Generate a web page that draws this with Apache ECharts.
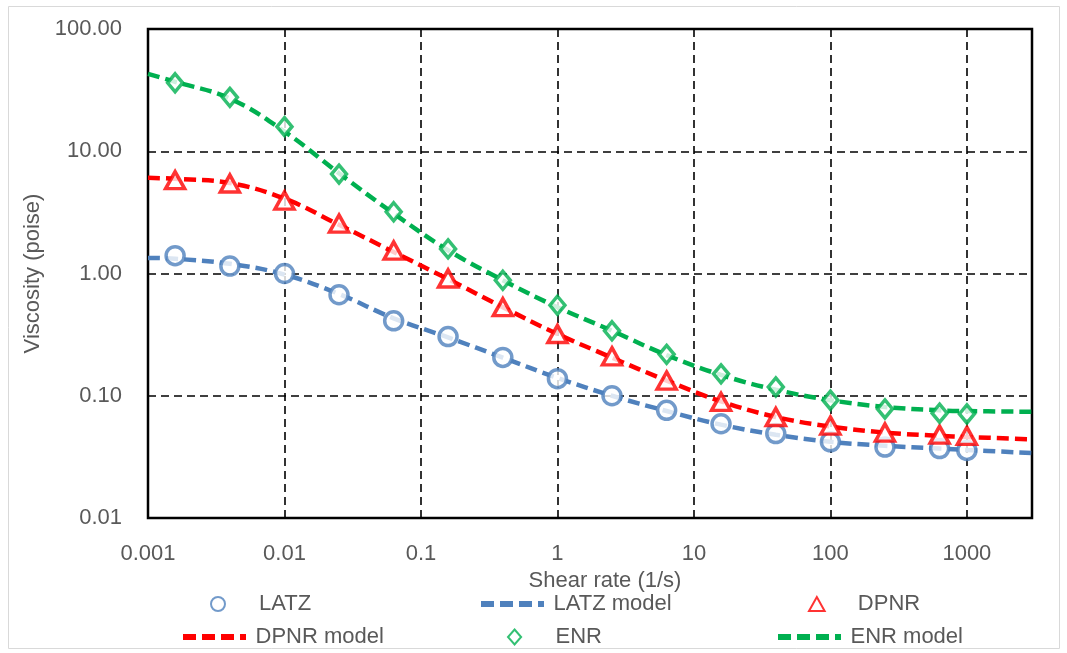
<!DOCTYPE html>
<html><head><meta charset="utf-8">
<script src="https://cdn.jsdelivr.net/npm/echarts@6/dist/echarts.min.js"></script>
<style>html,body{margin:0;padding:0;background:#fff}#c{width:1067px;height:653px}</style>
</head><body><div id="c"></div>
<script>
const shearRates = [0.00158, 0.00398, 0.01, 0.0251, 0.0631, 0.158, 0.398, 1, 2.51, 6.31, 15.8, 39.8, 100, 251, 631, 1000];
const latz = [1.40, 1.15, 1.0, 0.67, 0.41, 0.305, 0.206, 0.138, 0.100, 0.076, 0.059, 0.049, 0.042, 0.038, 0.037, 0.0357];
const dpnr = [5.8, 5.45, 3.95, 2.56, 1.54, 0.91, 0.53, 0.32, 0.21, 0.133, 0.089, 0.067, 0.057, 0.050, 0.048, 0.047];
const enr  = [36.3, 27.6, 15.9, 6.5, 3.2, 1.59, 0.88, 0.55, 0.34, 0.218, 0.151, 0.118, 0.092, 0.078, 0.072, 0.071];

const modelRates = [0.001, 0.00158, 0.00398, 0.01, 0.0251, 0.0631, 0.158, 0.398, 1, 2.51, 6.31, 15.8, 39.8, 100, 251, 631, 1000, 3000];
const latzModel = [1.34, 1.32, 1.2, 0.98, 0.68, 0.43, 0.30, 0.205, 0.14, 0.100, 0.075, 0.058, 0.048, 0.042, 0.039, 0.037, 0.036, 0.034];
const dpnrModel = [6.06, 5.95, 5.5, 4.1, 2.5, 1.5, 0.9, 0.53, 0.32, 0.205, 0.133, 0.09, 0.067, 0.056, 0.050, 0.047, 0.046, 0.044];
const enrModel  = [43, 37, 27, 14.5, 6.6, 3.1, 1.55, 0.88, 0.53, 0.34, 0.215, 0.148, 0.112, 0.092, 0.081, 0.076, 0.075, 0.074];

const xTickLabels = ['0.001', '0.01', '0.1', '1', '10', '100', '1000'];
const yTickLabels = ['0.01', '0.10', '1.00', '10.00', '100.00'];

const BLUE = '#4F81BD', RED = '#FF0000', GREEN = '#00B050';
const FONT = 'Liberation Sans';
const TXT = '#595959';
const FS = 22;

const DASH_ICON = 'path://M0,0h13v6h-13z M19,0h13v6h-13z M38,0h13v6h-13z M57,0h6v6h-6z';
const TRI_ICON = 'path://M9.5,0L19,17L0,17Z';
const DIA_ICON = 'path://M7,0L14,8L7,16L0,8Z';

function pairs(xs, ys) { return xs.map((x, i) => [x, ys[i]]); }
function markerSeries(name, data, symbol, size, color) {
  return { name, type: 'scatter', data: pairs(shearRates, data), symbol, symbolSize: size, z: 5,
    itemStyle: { color: '#fff', borderColor: color, borderWidth: 3.5 } };
}
function modelSeries(name, data, color) {
  return { name, type: 'line', data: pairs(modelRates, data), smooth: 0.4, showSymbol: false, symbol: 'none', z: 3,
    lineStyle: { color, width: 4.5, type: [12, 6] }, itemStyle: { color } };
}
function legendItem(left, top, name, icon, h) {
  return { left, top, padding: 0, itemWidth: 72, itemHeight: h, icon, data: [name], selectedMode: false,
    textStyle: { fontFamily: FONT, fontSize: FS, color: TXT } };
}
const ROW1 = 593, ROW2 = 626;
const chart = echarts.init(document.getElementById('c'));
chart.setOption({
  animation: false,
  backgroundColor: '#fff',
  graphic: [{ type: 'rect', shape: { x: 8.5, y: 6.5, width: 1051, height: 642 }, style: { fill: 'none', stroke: '#d9d9d9', lineWidth: 1 }, z: -1 }],
  grid: { left: 148, right: 35, top: 29, bottom: 135, show: true, borderColor: '#000', borderWidth: 2.5, backgroundColor: '#fff' },
  legend: [
    legendItem(210, ROW1, 'LATZ', 'circle', 14),
    legendItem(481, ROW1, 'LATZ model', DASH_ICON, 6),
    legendItem(808, ROW1, 'DPNR', TRI_ICON, 14),
    legendItem(183, ROW2, 'DPNR model', DASH_ICON, 6),
    legendItem(507, ROW2, 'ENR', DIA_ICON, 15),
    legendItem(778, ROW2, 'ENR model', DASH_ICON, 6)
  ],
  xAxis: {
    type: 'log', logBase: 10, min: 0.001, max: 3000,
    name: 'Shear rate (1/s)', nameLocation: 'middle', nameGap: 50,
    nameTextStyle: { fontFamily: FONT, fontSize: FS, color: TXT, padding: [0, 0, 0, 30] },
    axisLine: { show: false }, axisTick: { show: false },
    axisLabel: { fontFamily: FONT, fontSize: FS, color: TXT, margin: 25, showMaxLabel: false,
      formatter: v => { const e = Math.log10(v); const r = Math.round(e); return Math.abs(e - r) < 1e-6 ? (xTickLabels[r + 3] || '') : ''; } },
    splitLine: { show: true, lineStyle: { color: '#000', width: 1.6, type: [8, 5] } }
  },
  yAxis: {
    type: 'log', logBase: 10, min: 0.01, max: 100,
    name: 'Viscosity (poise)', nameLocation: 'middle', nameGap: 100,
    nameTextStyle: { fontFamily: FONT, fontSize: FS, color: TXT },
    axisLine: { show: false }, axisTick: { show: false },
    axisLabel: { fontFamily: FONT, fontSize: FS, color: TXT, margin: 26,
      formatter: v => { const e = Math.log10(v); const r = Math.round(e); return Math.abs(e - r) < 1e-6 ? (yTickLabels[r + 2] || '') : ''; } },
    splitLine: { show: true, lineStyle: { color: '#000', width: 1.6, type: [8, 5] } }
  },
  series: [
    markerSeries('LATZ', latz, 'circle', 18, BLUE),
    modelSeries('LATZ model', latzModel, BLUE),
    markerSeries('DPNR', dpnr, 'triangle', [19, 17], RED),
    modelSeries('DPNR model', dpnrModel, RED),
    markerSeries('ENR', enr, 'diamond', [15, 18], GREEN),
    modelSeries('ENR model', enrModel, GREEN)
  ]
});
</script></body></html>
